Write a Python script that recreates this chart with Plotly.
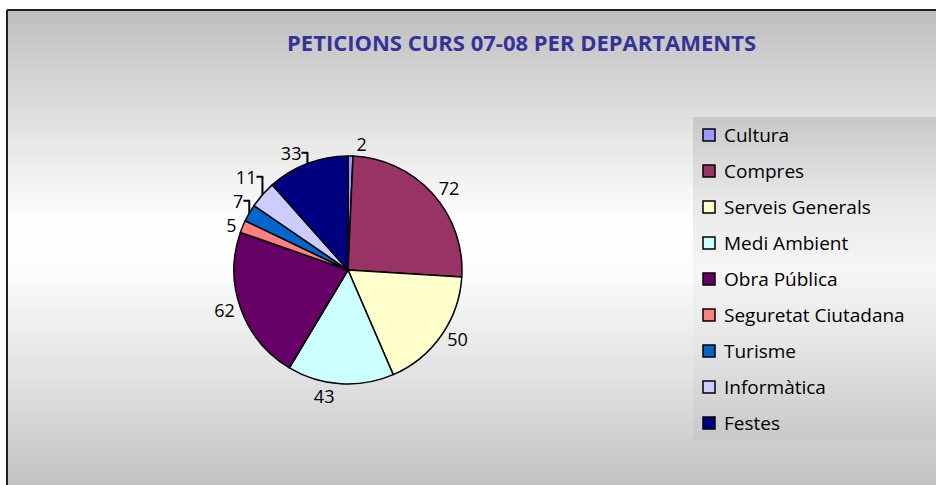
import plotly.graph_objects as go

# ---- data ----
categories = ["Cultura", "Compres", "Serveis Generals", "Medi Ambient", "Obra Pública",
              "Seguretat Ciutadana", "Turisme", "Informàtica", "Festes"]
values = [2, 72, 50, 43, 62, 5, 7, 11, 33]
colors = ["#9999FF", "#993366", "#FFFFCC", "#CCFFFF", "#660066",
          "#FF8080", "#0066CC", "#CCCCFF", "#000080"]
title_text = "PETICIONS CURS 07-08 PER DEPARTAMENTS"

W, H = 936, 485


def px(x):
    return x / W


def py(y):
    return 1 - y / H


def lerp_gray(stops, y):
    for (y0, g0), (y1, g1) in zip(stops, stops[1:]):
        if y0 <= y <= y1:
            t = (y - y0) / (y1 - y0) if y1 > y0 else 0
            g = round(g0 + (g1 - g0) * t)
            return f"rgb({g},{g},{g})"
    g = stops[-1][1]
    return f"rgb({g},{g},{g})"


shapes = []
# chart area gradient background
bg_stops = [(10, 190), (120, 225), (220, 254), (260, 254), (380, 225), (485, 194)]
step = 5
for y in range(10, H, step):
    shapes.append(dict(type="rect", xref="paper", yref="paper", layer="below",
                       x0=px(7), x1=1, y0=py(min(y + step, H)), y1=py(y),
                       fillcolor=lerp_gray(bg_stops, y + step / 2), line_width=0))
# border
shapes.append(dict(type="line", xref="paper", yref="paper", layer="above",
                   x0=px(7), x1=1, y0=py(10), y1=py(10), line=dict(color="#202020", width=2)))
shapes.append(dict(type="line", xref="paper", yref="paper", layer="above",
                   x0=px(7), x1=px(7), y0=py(10), y1=0, line=dict(color="#202020", width=2)))

# legend box gradient
lg_stops = [(117, 200), (200, 232), (270, 246), (350, 228), (440, 200)]
for y in range(117, 440, 4):
    shapes.append(dict(type="rect", xref="paper", yref="paper", layer="below",
                       x0=px(693), x1=1, y0=py(min(y + 4, 440)), y1=py(y),
                       fillcolor=lerp_gray(lg_stops, y + 2), line_width=0))

annotations = []
for i, (cat, col) in enumerate(zip(categories, colors)):
    yc = 135 + 36 * i
    shapes.append(dict(type="rect", xref="paper", yref="paper", layer="above",
                       x0=px(703), x1=px(715), y0=py(yc + 6), y1=py(yc - 6),
                       fillcolor=col, line=dict(color="black", width=1.5)))
    annotations.append(dict(xref="paper", yref="paper", x=px(722), y=py(yc),
                            xanchor="left", yanchor="middle", showarrow=False,
                            text=cat, font=dict(family="Open Sans", size=19, color="black")))

annotations.append(dict(xref="paper", yref="paper", x=px(521), y=py(42),
                        xanchor="center", yanchor="middle", showarrow=False,
                        text=f"<b>{title_text}</b>",
                        font=dict(family="Open Sans", size=22, color="#333399")))

cx, cy, r = 348, 270, 114
fig = go.Figure(go.Pie(
    labels=categories, values=values, sort=False, direction="clockwise", rotation=0,
    marker=dict(colors=colors, line=dict(color="black", width=1.5)),
    textinfo="value", textposition="outside",
    outsidetextfont=dict(family="Open Sans", size=18, color="black"),
    domain=dict(x=[px(cx - r), px(cx + r)], y=[py(cy + r), py(cy - r)]),
    showlegend=False, hoverinfo="label+value+percent",
))

fig.update_layout(
    width=W, height=H, margin=dict(l=0, r=0, t=0, b=0),
    paper_bgcolor="white", plot_bgcolor="white",
    shapes=shapes, annotations=annotations, showlegend=False,
)

fig.write_html("out.html", config={"displayModeBar": False},
               post_script="document.body.style.margin='0';document.body.style.overflow='hidden';")
